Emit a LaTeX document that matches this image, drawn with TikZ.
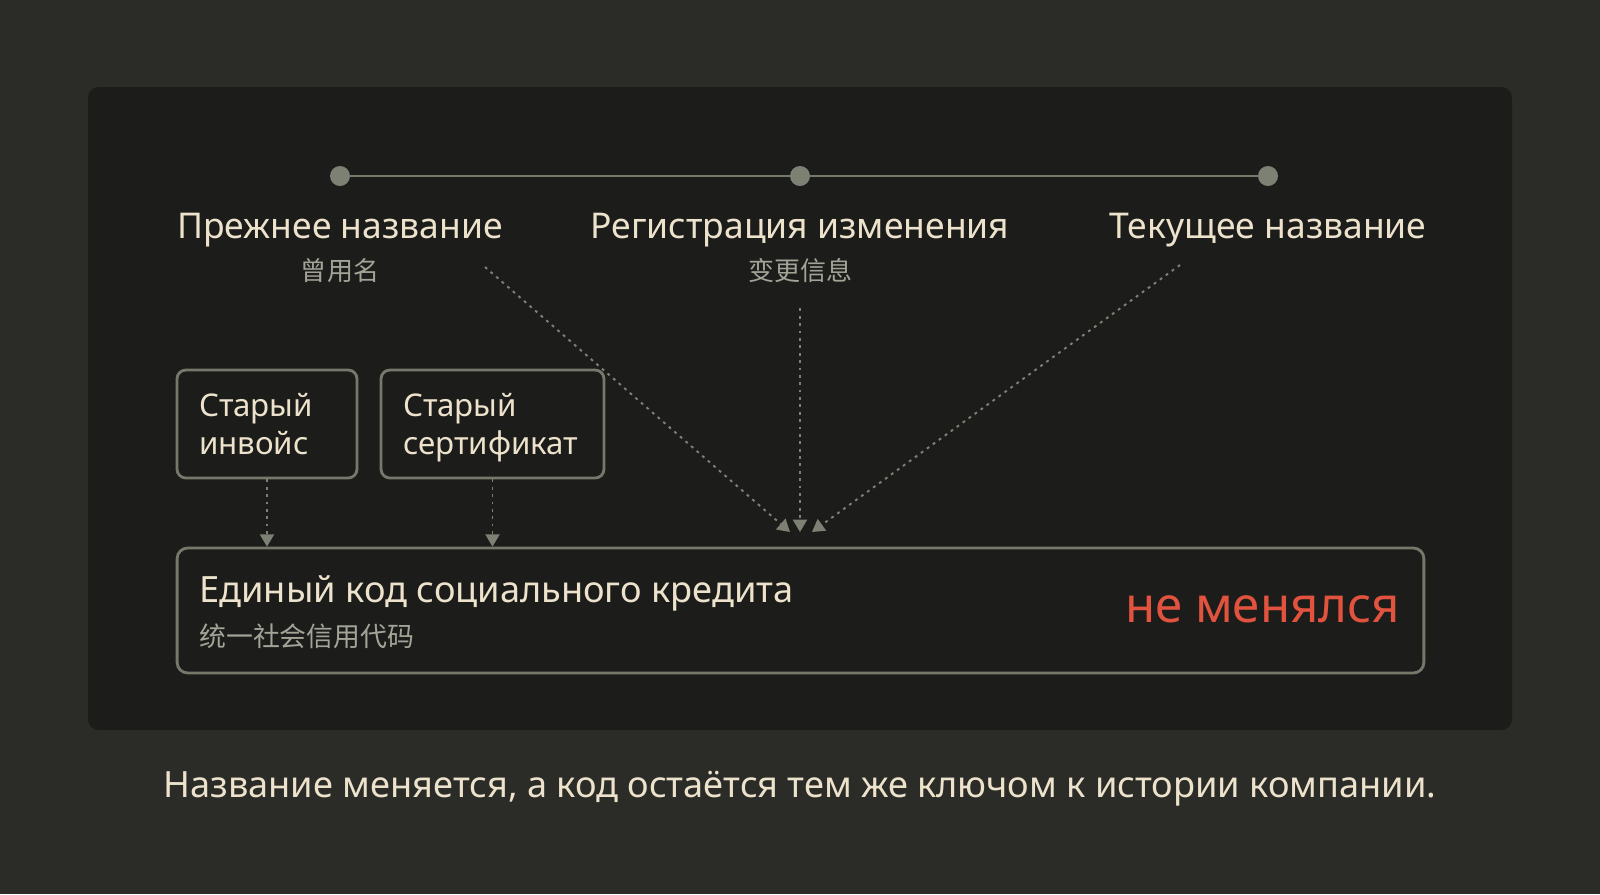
\documentclass[tikz,border=0pt]{standalone}
\usepackage{fontspec}
\setmainfont{Noto Sans}
\newfontfamily\cjk{Noto Sans CJK SC}
\usetikzlibrary{arrows.meta}

\definecolor{outerbg}{HTML}{2B2C27}
\definecolor{panelbg}{HTML}{1C1D1B}
\definecolor{cream}{HTML}{EDE2CC}
\definecolor{subgray}{HTML}{A3A397}
\definecolor{linegray}{HTML}{75786B}
\definecolor{dotgray}{HTML}{7D8173}
\definecolor{alertred}{HTML}{E2533F}

\tikzset{
  dot/.style={circle,fill=dotgray,inner sep=0pt,minimum size=0.4cm},
  tline/.style={linegray,line width=1.6pt},
  lbl/.style={text=cream,font=\fontsize{20.2}{24}\selectfont,inner sep=0pt},
  sub/.style={text=subgray,font=\cjk\fontsize{14.8}{17}\selectfont,inner sep=0pt},
  doc/.style={draw=linegray,line width=1.6pt,rounded corners=5pt,fill=panelbg,
    text=cream,font=\fontsize{17.8}{21.6}\selectfont,align=left,
    inner xsep=0.44cm,minimum height=2.16cm},
  link/.style={dotgray,line width=1.1pt,dash pattern=on 1.6pt off 2.6pt,
    -{Triangle[length=7pt,width=8pt]}},
}

\begin{document}
\begin{tikzpicture}[x=0.02cm,y=-0.02cm]
\fill[outerbg] (0,0) rectangle (1600,894);
\fill[panelbg,rounded corners=6pt] (88,87) rectangle (1512,730);

% timeline
\node[dot] (d1) at (340,176) {};
\node[dot] (d2) at (800,176) {};
\node[dot] (d3) at (1268,176) {};
\draw[tline] (d1) -- (d2) -- (d3);

\node[lbl] (prev) at (340,230) {Прежнее название};
\node[sub] (prevzh) at (340,271) {曾用名};
\node[lbl] (reg) at (800,230) {Регистрация изменения};
\node[sub] (regzh) at (800,271) {变更信息};
\node[lbl] (cur) at (1268,230) {Текущее название};

% old documents
\node[doc,minimum width=3.6cm,text width=2.72cm] (inv) at (267,424) {Старый\\инвойс};
\node[doc,minimum width=4.46cm,text width=3.58cm] (cert) at (492.5,424)
  {Старый\\\raisebox{0pt}[\height][0pt]{сертификат}};

% unified code
\node[draw=linegray,line width=1.6pt,rounded corners=6pt,minimum width=24.94cm,
  minimum height=2.5cm] (code) at (800.5,610.5) {};
\node[lbl,anchor=west,font=\fontsize{20.6}{24}\selectfont] (codetxt) at (199,593) {Единый код социального кредита};
\node[sub,anchor=west,font=\cjk\fontsize{15.3}{17}\selectfont] (codezh) at (199,636) {统一社会信用代码};
\node[text=alertred,font=\fontsize{28}{32}\selectfont,anchor=east,inner sep=0pt]
  (same) at (1400,609) {не менялся};

\draw[link] (inv.south) -- (inv.south |- code.north);
\draw[link] (cert.south) -- (cert.south |- code.north);

\coordinate (fromprev) at (485,267);
\coordinate (fromcur) at (1180,265);
\coordinate (toprev) at (790,532);
\coordinate (toreg) at (800,532);
\coordinate (tocur) at (812,532);
\draw[link] (fromprev) -- (toprev);
\draw[link] (regzh.south) ++(0,25) -- (toreg);
\draw[link] (fromcur) -- (tocur);

\node[lbl,font=\fontsize{20.6}{24}\selectfont] (note) at (800,789) {Название меняется, а код остаётся тем же ключом к истории компании.};
\end{tikzpicture}
\end{document}
